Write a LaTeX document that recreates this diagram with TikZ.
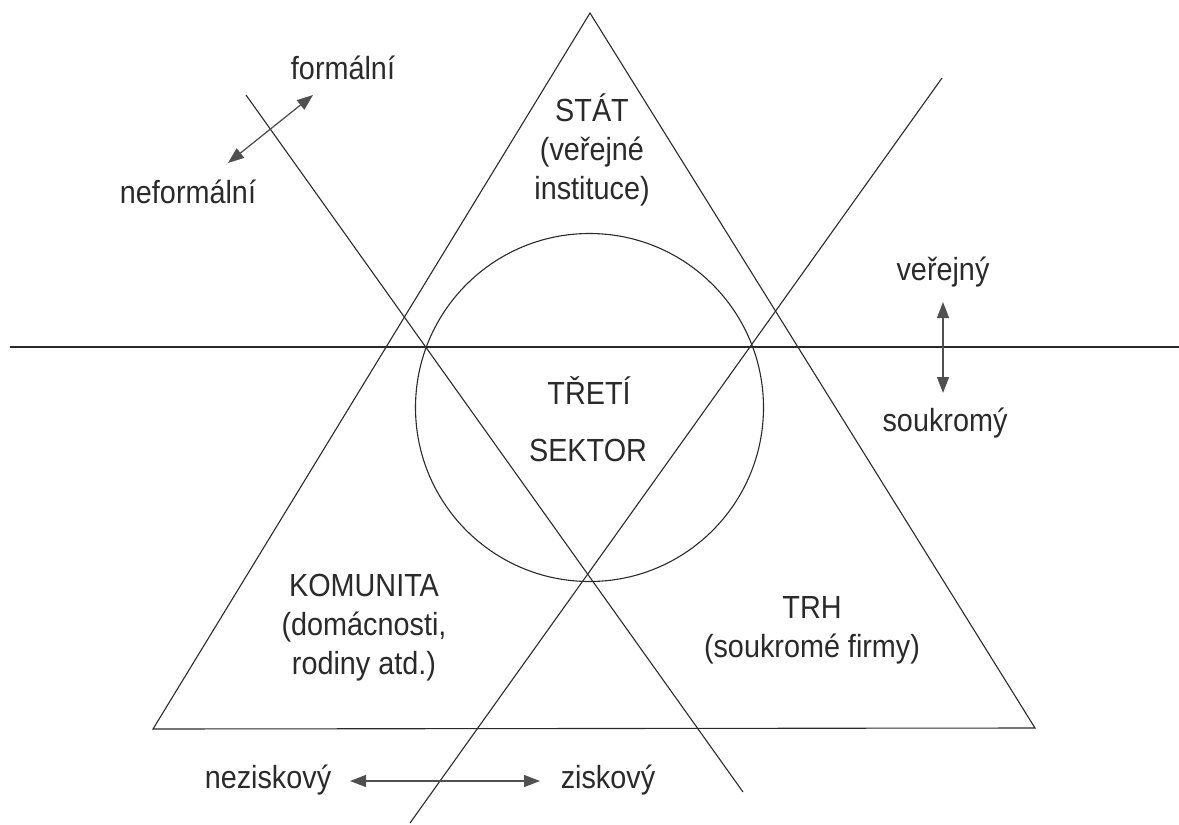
\documentclass[tikz,border=0pt]{standalone}
\usepackage{fontspec}
\setmainfont{Liberation Sans}[FakeStretch=0.9]
\usetikzlibrary{arrows.meta}
\definecolor{ink}{HTML}{2A2A2A}
\definecolor{arr}{HTML}{505050}
\tikzset{
  lbl/.style={text=ink, font=\fontsize{32}{39}\selectfont, align=center, inner sep=0pt},
  shape line/.style={draw=ink, line width=1.1pt},
  dbl/.style={draw=arr, line width=1.3pt, {Triangle[length=16pt,width=12pt]}-{Triangle[length=16pt,width=12pt]}}
}
\begin{document}
\begin{tikzpicture}[x=1pt,y=-1pt]
\useasboundingbox (0,0) rectangle (1179,825);
% geometry
\coordinate (apex) at (590,13);
\coordinate (bl) at (153,729);
\coordinate (br) at (1035,728);
\draw[shape line, line join=miter] (apex) -- (bl) -- (br) -- cycle;
\coordinate (h1) at (10,347);
\coordinate (h2) at (1179,347);
\draw[shape line] (h1) -- (h2);
\coordinate (d1a) at (246,95);
\coordinate (d1b) at (743,792);
\draw[shape line] (d1a) -- (d1b);
\coordinate (d2a) at (942,78);
\coordinate (d2b) at (410,823);
\draw[shape line] (d2a) -- (d2b);
\node[circle, shape line, minimum size=348pt, inner sep=0pt] (circ) at (589.5,407.5) {};
% texts
\node[lbl] (stat) at (592,150) {STÁT\\(veřejné\\instituce)};
\node[lbl] (treti) at (589,391) {TŘETÍ};
\node[lbl] (sektor) at (588,450) {SEKTOR};
\node[lbl] (komunita) at (364,628) {KOMUNITA\\(domácnosti,\\rodiny atd.)};
\node[lbl] (trh) at (812,630) {TRH\\(soukromé firmy)};
\node[lbl] (formalni) at (343,68) {formální};
\node[lbl] (neformalni) at (188,192) {neformální};
\node[lbl] (verejny) at (943,272) {veřejný};
\node[lbl] (soukromy) at (945,423) {soukromý};
\node[lbl] (neziskovy) at (268,780) {neziskový};
\node[lbl] (ziskovy) at (608,780) {ziskový};
% arrows
\coordinate (fa) at (228,163);
\coordinate (fb) at (313,95);
\draw[dbl] (fa) -- (fb);
\coordinate (va) at (943,302);
\coordinate (vb) at (943,393);
\draw[dbl] (va) -- (vb);
\coordinate (za) at (350,781);
\coordinate (zb) at (540,781);
\draw[dbl] (za) -- (zb);
\end{tikzpicture}
\end{document}
